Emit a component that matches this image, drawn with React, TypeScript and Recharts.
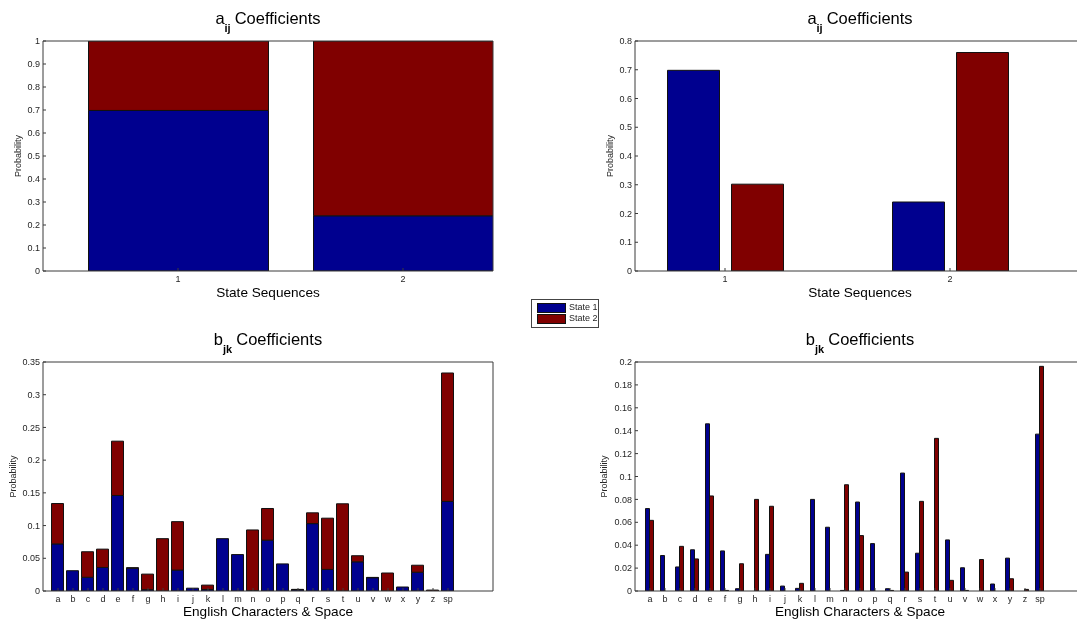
import React from 'react';
import { BarChart, Bar, XAxis, YAxis } from 'recharts';

const FONT = '"Liberation Sans", Arial, Helvetica, sans-serif';
const BLUE = '#00008f';
const RED = '#800000';
const AXIS = '#3a3a3a';
const TEXT = '#262626';

const seriesNames = ['State 1', 'State 2'];
const seriesColors = [BLUE, RED];

// a_ij transition coefficients
const states = [1, 2];
const aState1 = [0.698, 0.24];
const aState2 = [0.302, 0.76];

// b_jk emission coefficients
const chars = ['a', 'b', 'c', 'd', 'e', 'f', 'g', 'h', 'i', 'j', 'k', 'l', 'm', 'n', 'o', 'p', 'q', 'r', 's', 't', 'u', 'v', 'w', 'x', 'y', 'z', 'sp'];
const bState1 = [0.072, 0.031, 0.021, 0.036, 0.146, 0.035, 0.002, 0, 0.032, 0.0043, 0.0023, 0.08, 0.0557, 0.0005, 0.0777, 0.0414, 0.002, 0.103, 0.033, 0, 0.0446, 0.0203, 0, 0.0061, 0.0287, 0, 0.137];
const bState2 = [0.0617, 0, 0.039, 0.028, 0.083, 0.0005, 0.0238, 0.08, 0.074, 0, 0.0067, 0, 0, 0.0928, 0.0484, 0, 0.0005, 0.0165, 0.0783, 0.1333, 0.0093, 0.0005, 0.0275, 0, 0.0107, 0.0014, 0.1962];

const aTicksStacked = [0, 0.1, 0.2, 0.3, 0.4, 0.5, 0.6, 0.7, 0.8, 0.9, 1];
const aTicksGrouped = [0, 0.1, 0.2, 0.3, 0.4, 0.5, 0.6, 0.7, 0.8];
const bTicksStacked = [0, 0.05, 0.1, 0.15, 0.2, 0.25, 0.3, 0.35];
const bTicksGrouped = [0, 0.02, 0.04, 0.06, 0.08, 0.1, 0.12, 0.14, 0.16, 0.18, 0.2];

const aData = states.map((s, i) => ({ pos: s, s1: aState1[i], s2: aState2[i] }));
const bData = chars.map((c, i) => ({ pos: i + 1, s1: bState1[i], s2: bState2[i] }));
const bPositions = chars.map((_, i) => i + 1);

function Title(props: any) {
  const { viewBox, main, sub } = props;
  const cx = viewBox.x + viewBox.width / 2;
  return (
    <text x={cx} y={viewBox.y - 16} textAnchor="middle" fontFamily={FONT} fontSize={16.5} fill="#000">
      {main}
      <tspan fontSize={11} fontWeight="bold" dy={8}>{sub}</tspan>
      <tspan dx={4} dy={-8}>Coefficients</tspan>
    </text>
  );
}

function XLabel(props: any) {
  const { viewBox, text, dy } = props;
  return (
    <text x={viewBox.x + viewBox.width / 2} y={viewBox.y + dy} textAnchor="middle" fontFamily={FONT} fontSize={13.6} fill="#000">
      {text}
    </text>
  );
}

function YLabel(props: any) {
  const { viewBox, bx } = props;
  const cy = viewBox.y + viewBox.height / 2;
  return (
    <text x={bx} y={cy} transform={`rotate(-90 ${bx} ${cy})`} textAnchor="middle" fontFamily={FONT} fontSize={9} fill={TEXT}>
      Probability
    </text>
  );
}

type PanelProps = {
  left: number;
  top: number;
  width: number;
  height: number;
  margin: { top: number; right: number; bottom: number; left: number };
  yWidth: number;
  data: any[];
  xDomain: number[];
  xTicks: number[];
  xFormat: (v: number) => string;
  yDomain: number[];
  yTicks: number[];
  titleMain: string;
  titleSub: string;
  xLabel: string;
  xLabelDy: number;
  yLabelX: number;
  stacked: boolean;
  barSize: number;
  barGap: number;
};

function Panel(p: PanelProps) {
  const tickStyle = { fontSize: 9, fill: TEXT, fontFamily: FONT };
  return (
    <div style={{ position: 'absolute', left: p.left, top: p.top }}>
      <BarChart width={p.width} height={p.height} data={p.data} margin={p.margin} barGap={p.barGap}>
        <XAxis
          dataKey="pos"
          type="number"
          domain={p.xDomain}
          ticks={p.xTicks}
          interval={0}
          allowDataOverflow
          tickFormatter={p.xFormat}
          height={30}
          tickSize={-3}
          tickMargin={8}
          stroke={AXIS}
          tick={tickStyle}
          label={<XLabel text={p.xLabel} dy={p.xLabelDy} />}
        />
        <XAxis
          xAxisId="top"
          orientation="top"
          dataKey="pos"
          type="number"
          domain={p.xDomain}
          ticks={p.xTicks}
          interval={0}
          allowDataOverflow
          height={1}
          tickSize={-3}
          tick={false}
          stroke={AXIS}
          label={<Title main={p.titleMain} sub={p.titleSub} />}
        />
        <YAxis
          type="number"
          domain={p.yDomain}
          ticks={p.yTicks}
          interval={0}
          allowDataOverflow
          width={p.yWidth}
          tickSize={-3}
          tickMargin={6}
          stroke={AXIS}
          tick={tickStyle}
          label={<YLabel bx={p.yLabelX} />}
        />
        <YAxis
          yAxisId="right"
          orientation="right"
          type="number"
          domain={p.yDomain}
          ticks={p.yTicks}
          interval={0}
          width={1}
          tickSize={-3}
          tick={false}
          stroke={AXIS}
        />
        <Bar
          dataKey="s1"
          name={seriesNames[0]}
          fill={BLUE}
          stroke="#111"
          strokeWidth={1}
          stackId={p.stacked ? 'st' : undefined}
          barSize={p.barSize}
          isAnimationActive={false}
        />
        <Bar
          dataKey="s2"
          name={seriesNames[1]}
          fill={RED}
          stroke="#111"
          strokeWidth={1}
          stackId={p.stacked ? 'st' : undefined}
          barSize={p.barSize}
          isAnimationActive={false}
        />
      </BarChart>
    </div>
  );
}

function LegendBox() {
  return (
    <div
      style={{
        position: 'absolute',
        left: 531,
        top: 299,
        width: 66,
        height: 27,
        border: '1px solid #444',
        background: '#fff',
        fontFamily: FONT,
        fontSize: 9,
        color: TEXT,
      }}
    >
      {seriesNames.map((n, i) => (
        <div key={n} style={{ position: 'absolute', left: 5, top: 3 + i * 11, height: 9, display: 'flex', alignItems: 'center' }}>
          <span style={{ display: 'inline-block', width: 27, height: 8, background: seriesColors[i], border: '1px solid #111' }} />
          <span style={{ marginLeft: 3, lineHeight: '9px' }}>{n}</span>
        </div>
      ))}
    </div>
  );
}

export default function App() {
  const fmtState = (v: number) => String(v);
  const fmtChar = (v: number) => chars[v - 1] ?? '';
  return (
    <div
      style={{
        position: 'absolute',
        left: 0,
        top: 0,
        width: 1077,
        height: 621,
        overflow: 'hidden',
        background: '#fff',
        willChange: 'transform',
      }}
    >
      <Panel
        left={0}
        top={0}
        width={540}
        height={310}
        margin={{ top: 40, right: 46, bottom: 9, left: 0 }}
        yWidth={43}
        data={aData}
        xDomain={[0.4, 2.4]}
        xTicks={states}
        xFormat={fmtState}
        yDomain={[0, 1]}
        yTicks={aTicksStacked}
        titleMain="a"
        titleSub="ij"
        xLabel="State Sequences"
        xLabelDy={26}
        yLabelX={20.5}
        stacked
        barSize={180}
        barGap={0}
      />
      <Panel
        left={540}
        top={0}
        width={560}
        height={310}
        margin={{ top: 40, right: 14, bottom: 9, left: 0 }}
        yWidth={95}
        data={aData}
        xDomain={[0.6, 2.6]}
        xTicks={states}
        xFormat={fmtState}
        yDomain={[0, 0.8]}
        yTicks={aTicksGrouped}
        titleMain="a"
        titleSub="ij"
        xLabel="State Sequences"
        xLabelDy={26}
        yLabelX={73}
        stacked={false}
        barSize={52}
        barGap={12}
      />
      <Panel
        left={0}
        top={310}
        width={540}
        height={311}
        margin={{ top: 51, right: 46, bottom: 0, left: 0 }}
        yWidth={43}
        data={bData}
        xDomain={[0, 30]}
        xTicks={bPositions}
        xFormat={fmtChar}
        yDomain={[0, 0.35]}
        yTicks={bTicksStacked}
        titleMain="b"
        titleSub="jk"
        xLabel="English Characters & Space"
        xLabelDy={25}
        yLabelX={15.5}
        stacked
        barSize={12}
        barGap={0}
      />
      <Panel
        left={540}
        top={310}
        width={560}
        height={311}
        margin={{ top: 51, right: 14, bottom: 0, left: 0 }}
        yWidth={95}
        data={bData}
        xDomain={[0, 30]}
        xTicks={bPositions}
        xFormat={fmtChar}
        yDomain={[0, 0.2]}
        yTicks={bTicksGrouped}
        titleMain="b"
        titleSub="jk"
        xLabel="English Characters & Space"
        xLabelDy={25}
        yLabelX={66.5}
        stacked={false}
        barSize={4}
        barGap={0}
      />
      <LegendBox />
    </div>
  );
}
